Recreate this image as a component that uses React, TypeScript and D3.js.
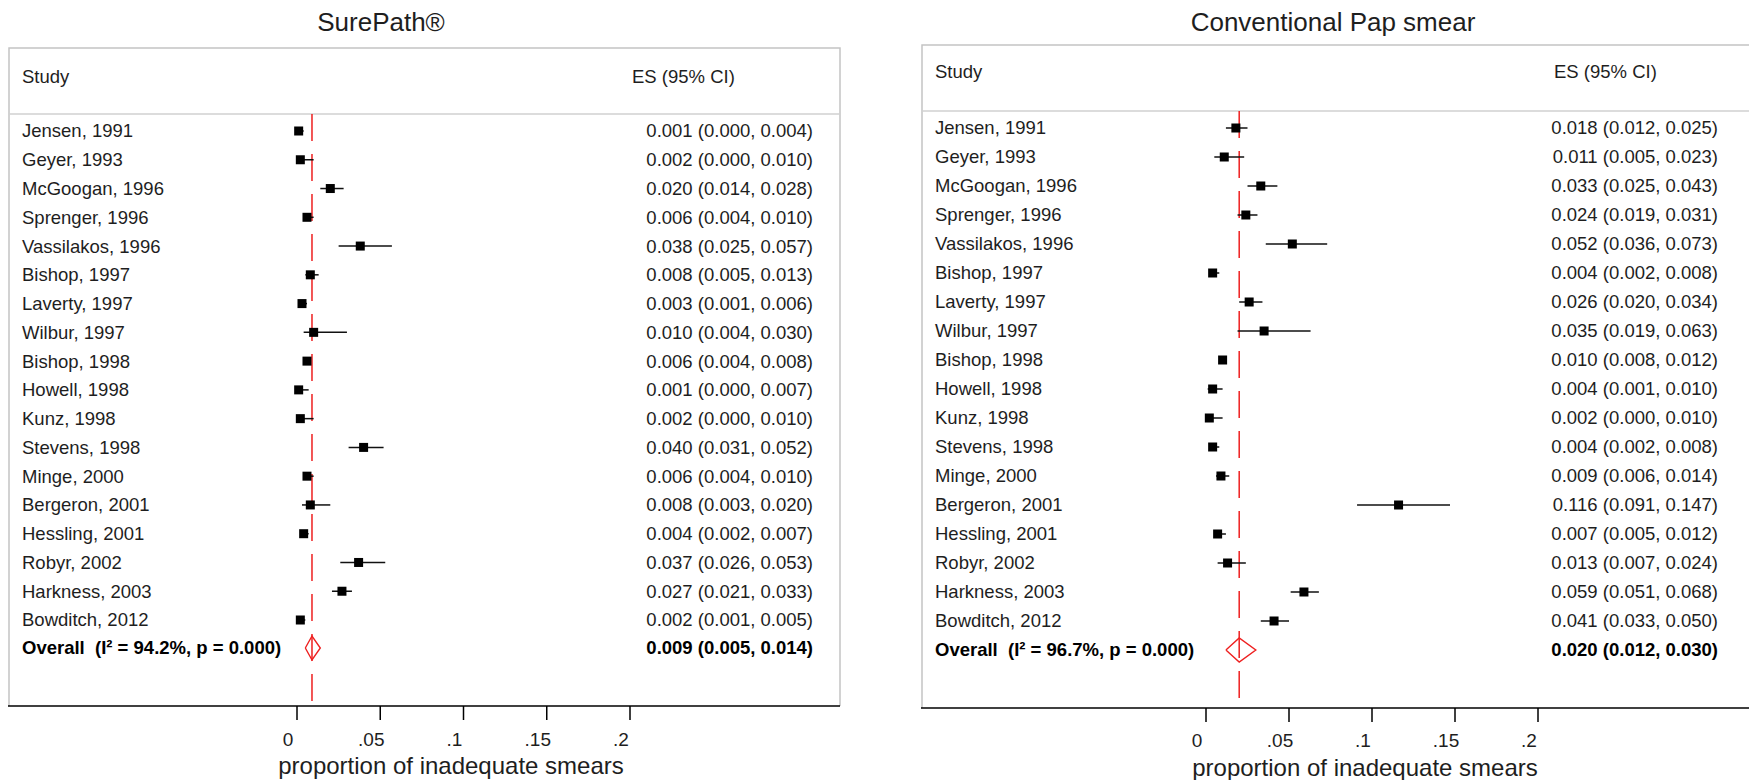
import React from "react";
import * as d3 from "d3";

const studies = [
  "Jensen, 1991", "Geyer, 1993", "McGoogan, 1996", "Sprenger, 1996", "Vassilakos, 1996",
  "Bishop, 1997", "Laverty, 1997", "Wilbur, 1997", "Bishop, 1998", "Howell, 1998",
  "Kunz, 1998", "Stevens, 1998", "Minge, 2000", "Bergeron, 2001", "Hessling, 2001",
  "Robyr, 2002", "Harkness, 2003", "Bowditch, 2012",
];

const surePathES = [0.001, 0.002, 0.020, 0.006, 0.038, 0.008, 0.003, 0.010, 0.006, 0.001, 0.002, 0.040, 0.006, 0.008, 0.004, 0.037, 0.027, 0.002];
const surePathLo = [0.000, 0.000, 0.014, 0.004, 0.025, 0.005, 0.001, 0.004, 0.004, 0.000, 0.000, 0.031, 0.004, 0.003, 0.002, 0.026, 0.021, 0.001];
const surePathHi = [0.004, 0.010, 0.028, 0.010, 0.057, 0.013, 0.006, 0.030, 0.008, 0.007, 0.010, 0.052, 0.010, 0.020, 0.007, 0.053, 0.033, 0.005];

const papES = [0.018, 0.011, 0.033, 0.024, 0.052, 0.004, 0.026, 0.035, 0.010, 0.004, 0.002, 0.004, 0.009, 0.116, 0.007, 0.013, 0.059, 0.041];
const papLo = [0.012, 0.005, 0.025, 0.019, 0.036, 0.002, 0.020, 0.019, 0.008, 0.001, 0.000, 0.002, 0.006, 0.091, 0.005, 0.007, 0.051, 0.033];
const papHi = [0.025, 0.023, 0.043, 0.031, 0.073, 0.008, 0.034, 0.063, 0.012, 0.010, 0.010, 0.008, 0.014, 0.147, 0.012, 0.024, 0.068, 0.050];

const overallES = [0.009, 0.020];
const overallLo = [0.005, 0.012];
const overallHi = [0.014, 0.030];
const overallI2 = ["94.2%", "96.7%"];
const overallP = ["0.000", "0.000"];

const panelTitles = ["SurePath®", "Conventional Pap smear"];
const tickValues = [0, 0.05, 0.1, 0.15, 0.2];
const tickLabels = ["0", ".05", ".1", ".15", ".2"];
const axisTitle = "proportion of inadequate smears";

const FONT = "'Liberation Sans', Arial, Helvetica, sans-serif";
const RED = "#ee2020";
const TXT = "#1e1e1e";
const fmt = d3.format(".3f");

type Layout = {
  boxL: number; boxR: number; boxT: number; axisY: number; sepY: number; headY: number;
  row0: number; rowN: number; overallY: number; labelX: number; esHeadX: number; esRight: number;
  x0: number; x1: number; titleX: number; axTitleX: number; axTitleY: number; tickLabelY: number;
};

const layouts: Layout[] = [
  { boxL: 9, boxR: 840, boxT: 48, axisY: 706, sepY: 114, headY: 77, row0: 131, rowN: 620, overallY: 648,
    labelX: 22, esHeadX: 632, esRight: 813, x0: 297, x1: 630, titleX: 381, axTitleX: 451, axTitleY: 766, tickLabelY: 739 },
  { boxL: 922, boxR: 1770, boxT: 45, axisY: 708, sepY: 111, headY: 72, row0: 128, rowN: 621, overallY: 650,
    labelX: 935, esHeadX: 1554, esRight: 1718, x0: 1206, x1: 1538, titleX: 1333, axTitleX: 1365, axTitleY: 768, tickLabelY: 740 },
];

function Panel({ idx, es, lo, hi }: { idx: number; es: number[]; lo: number[]; hi: number[] }) {
  const L = layouts[idx];
  const x = d3.scaleLinear().domain([0, 0.2]).range([L.x0, L.x1]);
  const y = d3.scaleLinear().domain([0, studies.length - 1]).range([L.row0, L.rowN]);
  const oES = overallES[idx], oLo = overallLo[idx], oHi = overallHi[idx];
  const sq = 9;
  const dh = 12;
  const diamond = d3.line<[number, number]>()([
    [x(oLo), L.overallY], [x(oES), L.overallY - dh], [x(oHi), L.overallY], [x(oES), L.overallY + dh], [x(oLo), L.overallY],
  ]) as string;
  return (
    <g fontFamily={FONT}>
      <text x={L.titleX} y={31} textAnchor="middle" fontSize={26} fill={TXT}>{panelTitles[idx]}</text>
      <path d={`M${L.boxL},${L.axisY}V${L.boxT}H${L.boxR}V${L.axisY}`} fill="none" stroke="#c4c4c4" strokeWidth={1.5} />
      <line x1={L.boxL} x2={L.boxR} y1={L.sepY} y2={L.sepY} stroke="#d0d0d0" strokeWidth={1.5} />
      <text x={L.labelX} y={L.headY} dy="0.35em" fontSize={18.5} fill={TXT}>Study</text>
      <text x={L.esHeadX} y={L.headY} dy="0.35em" fontSize={18.5} fill={TXT}>ES (95% CI)</text>
      <line x1={x(oES)} x2={x(oES)} y1={L.sepY} y2={L.axisY} stroke={RED} strokeWidth={1.5} strokeDasharray="27,13" />
      {studies.map((s, i) => (
        <g key={s}>
          <text x={L.labelX} y={y(i)} dy="0.35em" fontSize={18.5} fill={TXT}>{s}</text>
          <line x1={x(lo[i])} x2={x(hi[i])} y1={y(i)} y2={y(i)} stroke="#111" strokeWidth={1.5} />
          <rect x={x(es[i]) - sq / 2} y={y(i) - sq / 2} width={sq} height={sq} fill="#000" />
          <text x={L.esRight} y={y(i)} dy="0.35em" fontSize={18.5} textAnchor="end" fill={TXT}>
            {`${fmt(es[i])} (${fmt(lo[i])}, ${fmt(hi[i])})`}
          </text>
        </g>
      ))}
      <text x={L.labelX} y={L.overallY} dy="0.35em" fontSize={18.5} fontWeight="bold" fill="#000" xmlSpace="preserve">
        {`Overall  (I² = ${overallI2[idx]}, p = ${overallP[idx]})`}
      </text>
      <path d={diamond} fill="none" stroke={RED} strokeWidth={1.4} />
      <text x={L.esRight} y={L.overallY} dy="0.35em" fontSize={18.5} fontWeight="bold" textAnchor="end" fill="#000">
        {`${fmt(oES)} (${fmt(oLo)}, ${fmt(oHi)})`}
      </text>
      <line x1={L.boxL - 1} x2={L.boxR} y1={L.axisY} y2={L.axisY} stroke="#000" strokeWidth={1.6} />
      {tickValues.map((t, i) => (
        <g key={t}>
          <line x1={x(t)} x2={x(t)} y1={L.axisY} y2={L.axisY + 14} stroke="#000" strokeWidth={1.5} />
          <text x={x(t) - 9} y={L.tickLabelY} dy="0.35em" textAnchor="middle" fontSize={19} fill={TXT}>{tickLabels[i]}</text>
        </g>
      ))}
      <text x={L.axTitleX} y={L.axTitleY} dy="0.35em" textAnchor="middle" fontSize={24} fill={TXT}>{axisTitle}</text>
    </g>
  );
}

export default function App() {
  return (
    <svg width={1749} height={780} style={{ position: "absolute", left: 0, top: 0, background: "#fff" }}>
      <rect width={1749} height={780} fill="#fff" />
      <Panel idx={0} es={surePathES} lo={surePathLo} hi={surePathHi} />
      <Panel idx={1} es={papES} lo={papLo} hi={papHi} />
    </svg>
  );
}
